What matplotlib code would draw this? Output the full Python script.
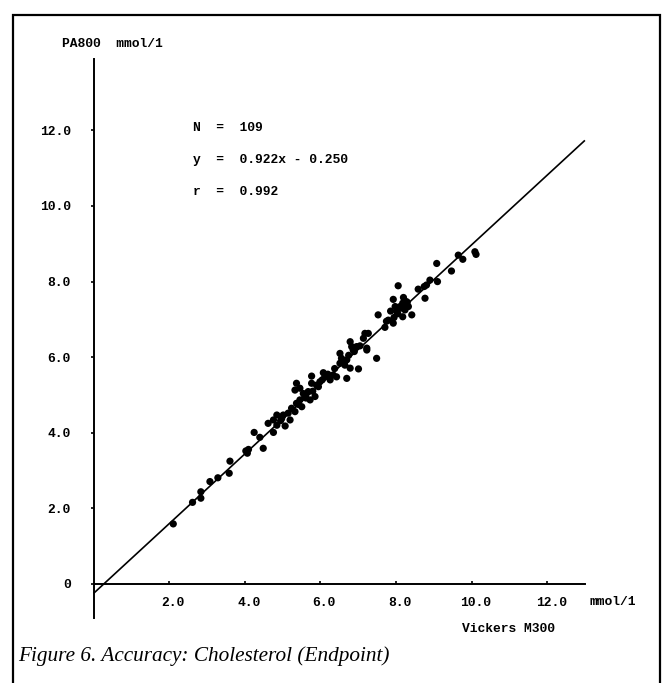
import matplotlib
matplotlib.use('Agg')
import matplotlib.pyplot as plt
from matplotlib.patches import Rectangle
from matplotlib.transforms import ScaledTranslation

# ---- data ----
x_vickers = [
    2.11, 2.62, 2.84, 2.84, 3.08, 3.29, 3.61, 3.59, 4.07, 4.10, 4.03, 4.49, 4.25, 4.40, 4.76, 4.62,
    7.27, 7.18, 7.14, 6.79, 6.83, 6.96, 6.87, 7.23, 7.49, 6.52, 6.56, 6.70, 6.65, 6.79, 7.01, 6.52,
    6.08, 6.12, 6.34, 6.43, 6.26, 6.70, 5.77, 5.77, 5.90, 5.99, 5.37, 5.33, 5.46, 5.55, 5.68, 5.59,
    5.86, 5.73, 5.46, 5.37, 5.24, 5.51, 5.33, 5.02, 4.85, 4.98, 4.76, 5.07, 4.85, 5.20,
    10.09, 10.12, 9.65, 9.77, 9.08, 9.47, 8.90, 9.10, 8.81, 8.75, 8.59, 8.77, 8.06,
    8.20, 7.93, 8.28, 8.18, 8.33, 8.11, 7.98, 8.02, 8.24, 8.42, 8.18, 7.86, 7.80, 7.93, 7.71,
    7.53, 7.23,
    5.15, 5.42, 5.62, 5.80, 5.95, 6.05, 6.20, 6.38, 6.60, 6.75, 6.90, 7.05, 7.95, 8.05, 8.15,
    7.75, 8.30, 4.95,
]
y_pa800 = [
    1.59, 2.16, 2.27, 2.44, 2.71, 2.81, 3.25, 2.93, 3.46, 3.56, 3.52, 3.59, 4.01, 3.88, 4.01, 4.25,
    6.63, 6.63, 6.50, 6.41, 6.28, 6.28, 6.19, 6.19, 5.97, 6.10, 5.97, 5.93, 5.79, 5.71, 5.69, 5.84,
    5.59, 5.48, 5.53, 5.48, 5.40, 5.44, 5.50, 5.31, 5.26, 5.35, 5.31, 5.13, 5.18, 5.04, 5.09, 4.96,
    4.96, 4.87, 4.87, 4.78, 4.65, 4.69, 4.56, 4.47, 4.47, 4.38, 4.34, 4.18, 4.20, 4.34,
    8.79, 8.72, 8.70, 8.59, 8.48, 8.28, 8.04, 8.00, 7.91, 7.87, 7.80, 7.56, 7.89,
    7.58, 7.53, 7.47, 7.43, 7.34, 7.34, 7.34, 7.21, 7.25, 7.12, 7.07, 7.22, 6.98, 6.90, 6.79,
    7.12, 6.24,
    4.52, 4.75, 4.92, 5.10, 5.22, 5.40, 5.55, 5.70, 5.85, 6.05, 6.15, 6.30, 7.05, 7.15, 7.30,
    6.95, 7.45, 4.32,
]
slope = 0.922
intercept = -0.250
n_count = 109
r_value = 0.992
x_ticks = [2, 4, 6, 8, 10, 12]
x_tick_labels = ['2.0', '4.0', '6.0', '8.0', '10.0', '12.0']
y_ticks = [0, 2, 4, 6, 8, 10, 12]
y_tick_labels = ['0', '2.0', '4.0', '6.0', '8.0', '10.0', '12.0']
x_line_range = [0.0, 13.0]

# ---- layout ----
W, H = 667, 683
fig = plt.figure(figsize=(W / 100, H / 100), dpi=100)
fig.patch.set_facecolor('white')

scale = 37.8          # px per data unit
x0px, y0px = 93.5, 584.0
xlim = (-1.0, 15.0)
ylim = (-1.0, 14.5)
left_px = x0px + xlim[0] * scale
width_px = (xlim[1] - xlim[0]) * scale
bottom_px = H - (y0px - ylim[0] * scale)
height_px = (ylim[1] - ylim[0]) * scale
ax = fig.add_axes([left_px / W, bottom_px / H, width_px / W, height_px / H])
ax.set_xlim(*xlim)
ax.set_ylim(*ylim)
ax.patch.set_alpha(0)

mono = 'Liberation Mono'
fs = 9.4

for s in ['top', 'right']:
    ax.spines[s].set_visible(False)
ax.spines['left'].set_position(('data', 0))
ax.spines['bottom'].set_position(('data', 0))
ax.spines['left'].set_bounds(-0.9, 13.9)
ax.spines['bottom'].set_bounds(0, 13.0)
for s in ['left', 'bottom']:
    ax.spines[s].set_linewidth(1.4)
    ax.spines[s].set_color('black')

ax.set_xticks(x_ticks)
ax.set_xticklabels(x_tick_labels, fontfamily=mono, fontsize=fs, fontweight='bold')
ax.set_yticks(y_ticks)
ax.set_yticklabels(y_tick_labels, fontfamily=mono, fontsize=fs, fontweight='bold')
ax.tick_params(axis='x', direction='in', length=2.5, width=1.2, pad=9)
ax.tick_params(axis='y', direction='out', length=2.5, width=1.2, pad=14)
shift = ScaledTranslation(4 / 100, 0, fig.dpi_scale_trans)
for lab in ax.get_xticklabels():
    lab.set_transform(lab.get_transform() + shift)

# regression line
xs = x_line_range
ys = [slope * v + intercept for v in xs]
ax.plot(xs, ys, color='black', lw=1.2, solid_capstyle='butt', zorder=2)

# scatter
ax.scatter(x_vickers, y_pa800, s=27, color='black', edgecolors='none', zorder=3)

# texts
def ftext(xp, yp, s, **kw):
    fig.text(xp / W, 1 - yp / H, s, **kw)

tkw = dict(fontfamily=mono, fontsize=fs, fontweight='bold', va='center', ha='left')
ftext(62, 44, 'PA800  mmol/1', **tkw)
ftext(590, 602, 'mmol/1', **tkw)
ftext(462, 629, 'Vickers M300', **tkw)

ftext(193, 128, f'N  =  {n_count}', **tkw)
ftext(193, 160, f'y  =  {slope:.3f}x - {abs(intercept):.3f}', **tkw)
ftext(193, 192, f'r  =  {r_value:.3f}', **tkw)

ftext(18, 656, 'Figure 6. Accuracy: Cholesterol (Endpoint)', fontfamily='Liberation Serif',
      fontstyle='italic', fontsize=15.3, va='center', ha='left')

# frame
fig.add_artist(Rectangle((13 / W, -0.05), (660 - 13) / W, 1 - 15 / H + 0.05,
                         transform=fig.transFigure, fill=False, lw=1.6, edgecolor='black',
                         clip_on=False))

fig.savefig('out.png', dpi=100, facecolor='white')
